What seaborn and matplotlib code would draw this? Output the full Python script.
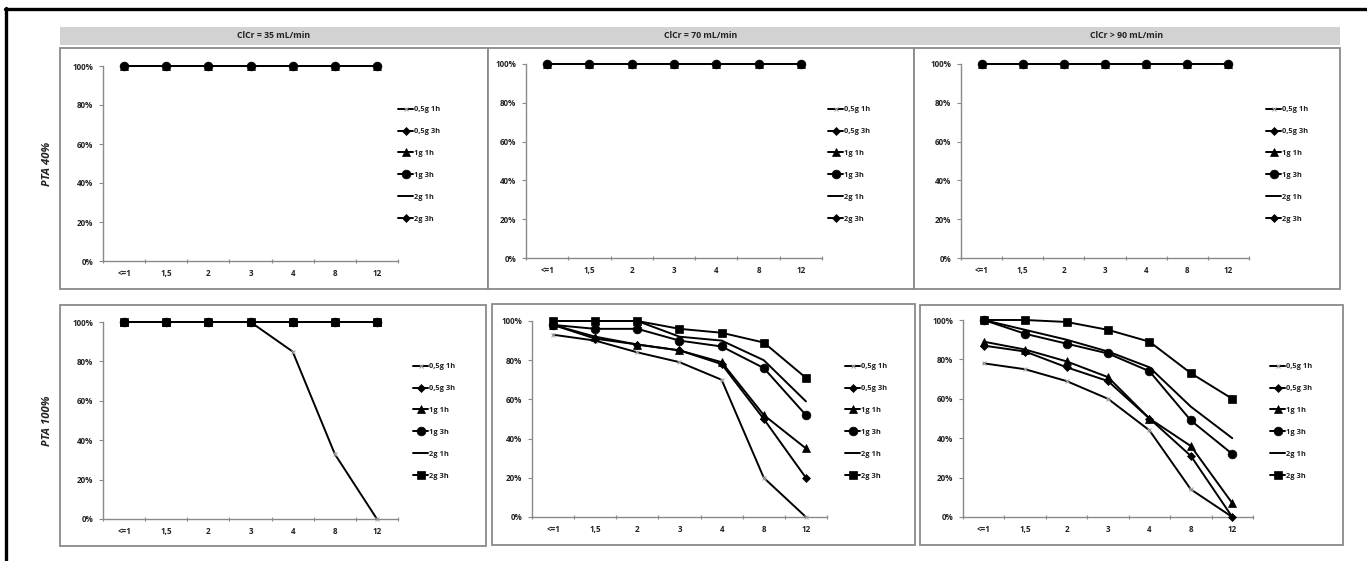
import matplotlib
matplotlib.use("Agg")
import matplotlib.pyplot as plt
import seaborn as sns
import pandas as pd
import numpy as np
from matplotlib.patches import Rectangle
from matplotlib.lines import Line2D

sns.set_theme(style="white")
plt.rcParams['font.family'] = ['Open Sans', 'DejaVu Sans']

# ---------------- data ----------------
concentrations = ["<=1", "1,5", "2", "3", "4", "8", "12"]
regimens = ["0,5g 1h", "0,5g 3h", "1g 1h", "1g 3h", "2g 1h", "2g 3h"]
clcr_titles = ["ClCr = 35 mL/min", "ClCr = 70 mL/min", "ClCr > 90 mL/min"]
row_labels = ["PTA 40%", "PTA 100%"]

# PTA 40% (all regimens, all clearances)
pta40_clcr35 = {r: [100, 100, 100, 100, 100, 100, 100] for r in regimens}
pta40_clcr70 = {r: [100, 100, 100, 100, 100, 100, 100] for r in regimens}
pta40_clcr90 = {r: [100, 100, 100, 100, 100, 100, 100] for r in regimens}

# PTA 100%
pta100_clcr35_05g1h = [100, 100, 100, 100, 85, 33, 0]
pta100_clcr35_other = [100, 100, 100, 100, 100, 100, 100]

pta100_clcr70_05g1h = [93, 90, 84, 79, 70, 20, 0]
pta100_clcr70_05g3h = [98, 91, 88, 85, 78, 50, 20]
pta100_clcr70_1g1h = [98, 92, 88, 85, 79, 52, 35]
pta100_clcr70_1g3h = [98, 96, 96, 90, 87, 76, 52]
pta100_clcr70_2g1h = [100, 100, 100, 92, 90, 80, 59]
pta100_clcr70_2g3h = [100, 100, 100, 96, 94, 89, 71]

pta100_clcr90_05g1h = [78, 75, 69, 60, 44, 14, 0]
pta100_clcr90_05g3h = [87, 84, 76, 69, 50, 31, 0]
pta100_clcr90_1g1h = [89, 85, 79, 71, 50, 36, 7]
pta100_clcr90_1g3h = [100, 93, 88, 83, 74, 49, 32]
pta100_clcr90_2g1h = [100, 95, 90, 84, 76, 56, 40]
pta100_clcr90_2g3h = [100, 100, 99, 95, 89, 73, 60]

pta100_clcr35 = {"0,5g 1h": pta100_clcr35_05g1h, "0,5g 3h": pta100_clcr35_other,
                 "1g 1h": pta100_clcr35_other, "1g 3h": pta100_clcr35_other,
                 "2g 1h": pta100_clcr35_other, "2g 3h": pta100_clcr35_other}
pta100_clcr70 = {"0,5g 1h": pta100_clcr70_05g1h, "0,5g 3h": pta100_clcr70_05g3h,
                 "1g 1h": pta100_clcr70_1g1h, "1g 3h": pta100_clcr70_1g3h,
                 "2g 1h": pta100_clcr70_2g1h, "2g 3h": pta100_clcr70_2g3h}
pta100_clcr90 = {"0,5g 1h": pta100_clcr90_05g1h, "0,5g 3h": pta100_clcr90_05g3h,
                 "1g 1h": pta100_clcr90_1g1h, "1g 3h": pta100_clcr90_1g3h,
                 "2g 1h": pta100_clcr90_2g1h, "2g 3h": pta100_clcr90_2g3h}

panels = [[pta40_clcr35, pta40_clcr70, pta40_clcr90],
          [pta100_clcr35, pta100_clcr70, pta100_clcr90]]

# ---------------- styles ----------------
W, H = 1367, 561
styles = {
    "0,5g 1h": dict(marker="x", markersize=3.5, mec="#a8a8a8", mfc="#a8a8a8", mew=0.8, z=3.0),
    "0,5g 3h": dict(marker="D", markersize=4.4, mec="black", mfc="black", mew=0.5, z=3.2),
    "1g 1h": dict(marker="^", markersize=5.2, mec="black", mfc="black", mew=0.5, z=3.3),
    "1g 3h": dict(marker="o", markersize=6.3, mec="black", mfc="black", mew=0.5, z=3.6),
    "2g 1h": dict(marker=None, markersize=0, mec="black", mfc="black", mew=0.5, z=3.1),
    "2g 3h": dict(marker="s", markersize=6.0, mec="black", mfc="black", mew=0.5, z=2.9),
}
# in the PTA 40% row the last regimen uses a diamond marker
top_row_override = {"2g 3h": dict(marker="D", markersize=4.4)}

fig = plt.figure(figsize=(W / 100, H / 100), dpi=100)
fig.patch.set_facecolor("white")


def fx(x):
    return x / W


def fy(y):
    return 1 - y / H


def add_rect(x0, y0, x1, y1, **kw):
    fig.patches.append(Rectangle((fx(x0), fy(y1)), fx(x1) - fx(x0), fy(y0) - fy(y1),
                                 transform=fig.transFigure, zorder=-5, **kw))


# outer black frame (top and left)
fig.add_artist(Line2D([fx(5), fx(1367)], [fy(8.5), fy(8.5)], color="black", lw=2.4,
                      transform=fig.transFigure))
fig.add_artist(Line2D([fx(6), fx(6)], [fy(8), fy(561)], color="black", lw=2.4,
                      transform=fig.transFigure))

# gray header band
add_rect(60, 27, 1340, 45, facecolor="#d2d2d2", edgecolor="none")

boxes = [[(60, 48, 488, 289), (488, 48, 914, 289), (914, 48, 1340, 289)],
         [(60, 305, 486, 546), (492, 304, 915, 545), (920, 305, 1343, 545)]]
axes_px = [[(103, 398, 66, 261), (526, 822, 64, 258), (961, 1249, 64, 258)],
           [(103, 398, 322, 519), (532, 827, 321, 517), (963, 1253, 320, 517)]]
legend_px = [[(398, 114), (828, 114), (1266, 114)],
             [(413, 371), (845, 371), (1270, 371)]]

for c, title in enumerate(clcr_titles):
    bx = boxes[0][c]
    fig.text(fx((bx[0] + bx[2]) / 2), fy(36), title, ha="center", va="center",
             fontsize=6.3, fontweight="bold", color="#222222")

for r in range(2):
    for c in range(3):
        bx = boxes[r][c]
        add_rect(bx[0], bx[1], bx[2], bx[3], facecolor="white", edgecolor="#8a8a8a", lw=1.3)
        x0, x1, yt, yb = axes_px[r][c]
        ax = fig.add_axes([fx(x0), fy(yb), fx(x1) - fx(x0), fy(yt) - fy(yb)])
        ax.set_zorder(3)
        ax.set_facecolor("none")
        ax.patch.set_alpha(0)
        data = panels[r][c]
        for reg in regimens:
            df = pd.DataFrame({"conc": concentrations, "pta": np.array(data[reg]) / 100.0})
            st = dict(styles[reg])
            if r == 0 and reg in top_row_override:
                st.update(top_row_override[reg])
            sns.lineplot(data=df, x="conc", y="pta", ax=ax, color="black", lw=1.4,
                         marker=st["marker"], markersize=st["markersize"],
                         markeredgecolor=st["mec"], markerfacecolor=st["mfc"],
                         markeredgewidth=st["mew"], sort=False, label=reg,
                         legend=False, clip_on=False, zorder=st["z"])
        ax.set_xlim(-0.5, len(concentrations) - 0.5)
        ax.set_ylim(0, 1)
        ax.set_xticks(range(len(concentrations)))
        ax.set_xticklabels(concentrations)
        ax.set_xticks(np.arange(-0.5, len(concentrations), 1.0), minor=True)
        ax.set_yticks(np.arange(0, 1.01, 0.2))
        ax.set_yticklabels([f"{int(round(v * 100))}%" for v in np.arange(0, 1.01, 0.2)])
        ax.tick_params(axis="x", which="major", length=0, pad=6, labelsize=5.8,
                       labelcolor="#222222")
        ax.tick_params(axis="x", which="minor", length=3, width=0.8, color="#8a8a8a",
                       direction="inout", bottom=True)
        ax.tick_params(axis="y", length=3, width=0.8, color="#8a8a8a", pad=4,
                       labelsize=5.8, labelcolor="#222222", left=True)
        for lab in ax.get_xticklabels() + ax.get_yticklabels():
            lab.set_fontweight("bold")
        for s in ["top", "right"]:
            ax.spines[s].set_visible(False)
        for s in ["left", "bottom"]:
            ax.spines[s].set_visible(True)
            ax.spines[s].set_color("#8a8a8a")
            ax.spines[s].set_linewidth(1.0)
        ax.set_xlabel("")
        ax.set_ylabel("")
        ax.grid(False)
        if c == 0:
            fig.text(fx(47), fy((yt + yb) / 2), row_labels[r], rotation=90,
                     ha="center", va="center", fontsize=8.2, fontweight="bold",
                     fontstyle="italic", color="#222222")
        handles, labels = ax.get_legend_handles_labels()
        lx, ly = legend_px[r][c]
        leg = fig.legend(handles, labels, loc="upper left",
                         bbox_to_anchor=(fx(lx), fy(ly - 8)),
                         bbox_transform=fig.transFigure, frameon=False,
                         fontsize=5.4, handlelength=2.0, handletextpad=0.1,
                         labelspacing=1.95, borderpad=0, borderaxespad=0)
        for t in leg.get_texts():
            t.set_fontweight("bold")
            t.set_color("#222222")

fig.savefig("out.png", dpi=100, facecolor="white")
